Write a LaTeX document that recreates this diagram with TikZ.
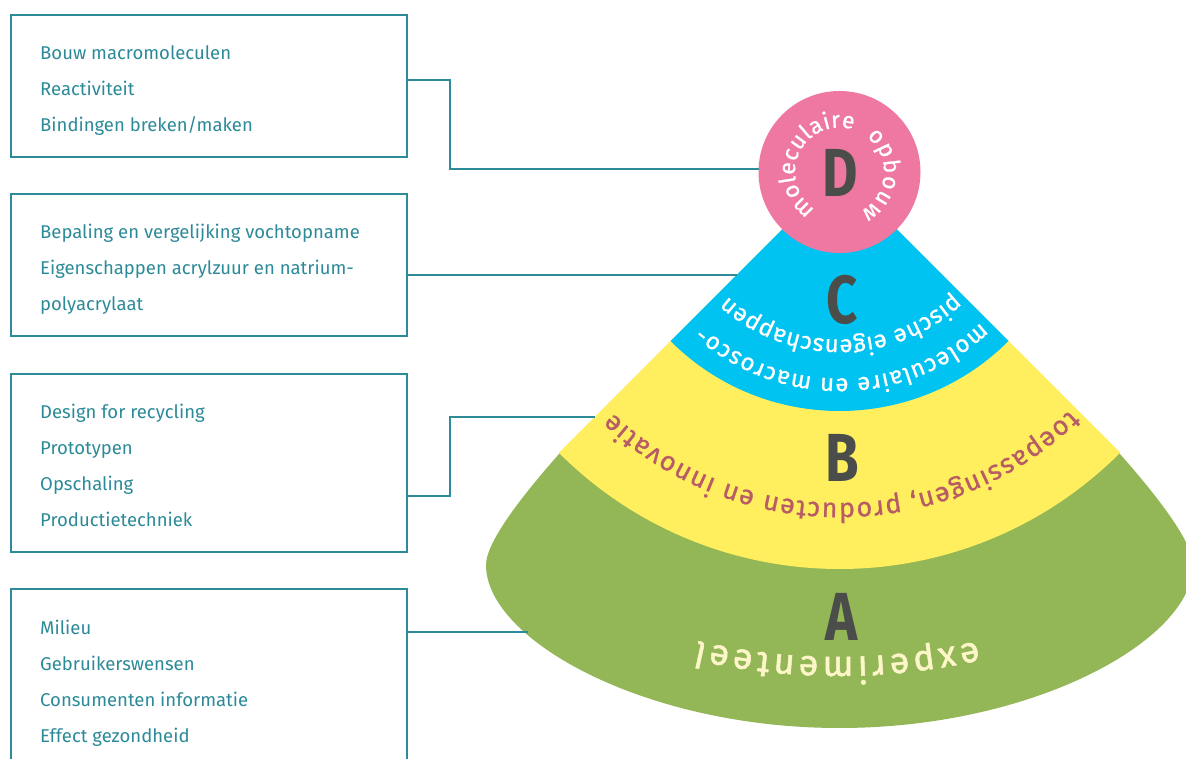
\documentclass[tikz,border=0pt]{standalone}
\usepackage{fontspec}
\setmainfont{Fira Sans}
\usetikzlibrary{decorations.text,calc}
\definecolor{boxteal}{HTML}{2E8B9A}
\definecolor{itemteal}{HTML}{2C8A98}
\definecolor{Agreen}{HTML}{93B656}
\definecolor{Byellow}{HTML}{FFEF5E}
\definecolor{Cblue}{HTML}{00C3F1}
\definecolor{Dpink}{HTML}{EE78A1}
\definecolor{letterdark}{HTML}{4A4D49}
\definecolor{Btext}{HTML}{B75B65}
\definecolor{Atext}{HTML}{FDF6C8}
\newcommand\dfont{\fontsize{23}{23}\selectfont\addfontfeatures{FakeBold=0.8}}
\newcommand\cfont{\fontsize{24}{24}\selectfont\addfontfeatures{FakeBold=0.8}}
\newcommand\bfont{\fontsize{27}{27}\selectfont\addfontfeatures{FakeBold=0.8}}
\newcommand\afont{\fontsize{36}{36}\selectfont\addfontfeatures{FakeBold=1.4}}
\tikzset{
  box/.style={draw=boxteal, line width=1.8, minimum width=396, minimum height=#1, inner sep=0, outer sep=0},
  item/.style={anchor=base west, inner sep=0, text=itemteal, font=\fontsize{18.5}{18.5}\selectfont},
  conn/.style={draw=boxteal, line width=1.8},
  bigletter/.style={inner sep=0, text=letterdark, font=\fontsize{68}{68}\selectfont\bfseries, xscale=0.8},
}
\begin{document}
\begin{tikzpicture}[x=1pt,y=1pt]
\useasboundingbox (0,0) rectangle (1186,758);
\clip (0,0) rectangle (1186,758);
\coordinate (O) at (839.5,586);
% fan
\fill[Agreen] (O) -- (559,304) .. controls (529,270) and (486,218) .. (486,193)
  .. controls (486,118) and (645,30) .. (839.5,30)
  .. controls (1034,30) and (1193,118) .. (1193,193)
  .. controls (1193,218) and (1150,270) .. (1120,304) -- cycle;
\fill[Byellow] (O) -- ++(225:397) arc[start angle=225, end angle=315, radius=397] -- cycle;
\fill[Cblue] (O) -- ++(225:239) arc[start angle=225, end angle=315, radius=239] -- cycle;
\node[circle, fill=Dpink, minimum size=162, inner sep=0, outer sep=0] (D) at (O) {};
% letters
\node[bigletter] (Dl) at (840,585) {D};
\node[bigletter] (Cl) at (842,458) {C};
\node[bigletter] (Bl) at (842,300) {B};
\node[bigletter] (Al) at (842,141) {A};
% curved texts
\path[decorate, decoration={text along path, text align={fit to path}, text color=white, text={|\dfont|moleculaire}}]
  ($(O)+(237:44.5)$) arc[start angle=237, end angle=72, radius=44.5];
\path[decorate, decoration={text along path, text align={fit to path}, text color=white, text={|\dfont|opbouw}}]
  ($(O)+(52.6:44.5)$) arc[start angle=52.6, end angle=-62, radius=44.5];
\path[decorate, decoration={text along path, text align={fit to path}, text color=white, text={|\cfont|moleculaire en macrosco-}}]
  ($(O)+(-46.8:206.5)$) arc[start angle=-46.8, end angle=-131.4, radius=206.5];
\path[decorate, decoration={text along path, text align={fit to path}, text color=white, text={|\cfont|pische eigenschappen}}]
  ($(O)+(-46.9:167.5)$) arc[start angle=-46.9, end angle=-132, radius=167.5];
\path[decorate, decoration={text along path, text align={fit to path}, text color=Btext, text={|\bfont|toepassingen, producten en innovatie}}]
  ($(O)+(-45.9:331)$) arc[start angle=-45.9, end angle=-133.2, radius=331];
\coordinate (Ac) at (838,730);
\path[decorate, decoration={text along path, text align={fit to path}, text color=Atext, text={|\afont|experimenteel}}]
  ($(Ac)+(-77.2:629)$) arc[start angle=-77.2, end angle=-102.9, radius=629];
% boxes
\node[box=142] (b1) at (209,672) {};
\node[box=142] (b2) at (209,493) {};
\node[box=178] (b3) at (209,295) {};
\node[box=178] (b4) at (209,80) {};
\node[item] (b1a) at (40,698) {Bouw macromoleculen};
\node[item] (b1b) at (40,662) {Reactiviteit};
\node[item] (b1c) at (40,626) {Bindingen breken/maken};
\node[item] (b2a) at (40,519) {Bepaling en vergelijking vochtopname};
\node[item] (b2b) at (40,483) {Eigenschappen acrylzuur en natrium-};
\node[item] (b2c) at (40,447) {polyacrylaat};
\node[item] (b3a) at (40,339) {Design for recycling};
\node[item] (b3b) at (40,303) {Prototypen};
\node[item] (b3c) at (40,267) {Opschaling};
\node[item] (b3d) at (40,231) {Productietechniek};
\node[item] (b4a) at (40,124) {Milieu};
\node[item] (b4b) at (40,88) {Gebruikerswensen};
\node[item] (b4c) at (40,52) {Consumenten informatie};
\node[item] (b4d) at (40,16) {Effect gezondheid};
% connectors
\coordinate (Cin) at (737,483);
\coordinate (Bin) at (595,341);
\coordinate (Ain) at (528,126);
\draw[conn] ([yshift=6]b1.east) -- ++(43,0) |- (D.178);
\draw[conn] ([yshift=-10]b2.east) -- (Cin);
\draw[conn] ([yshift=-33]b3.east) -- ++(43,0) |- (Bin);
\draw[conn] ([yshift=46]b4.east) -- (Ain);
\end{tikzpicture}
\end{document}
